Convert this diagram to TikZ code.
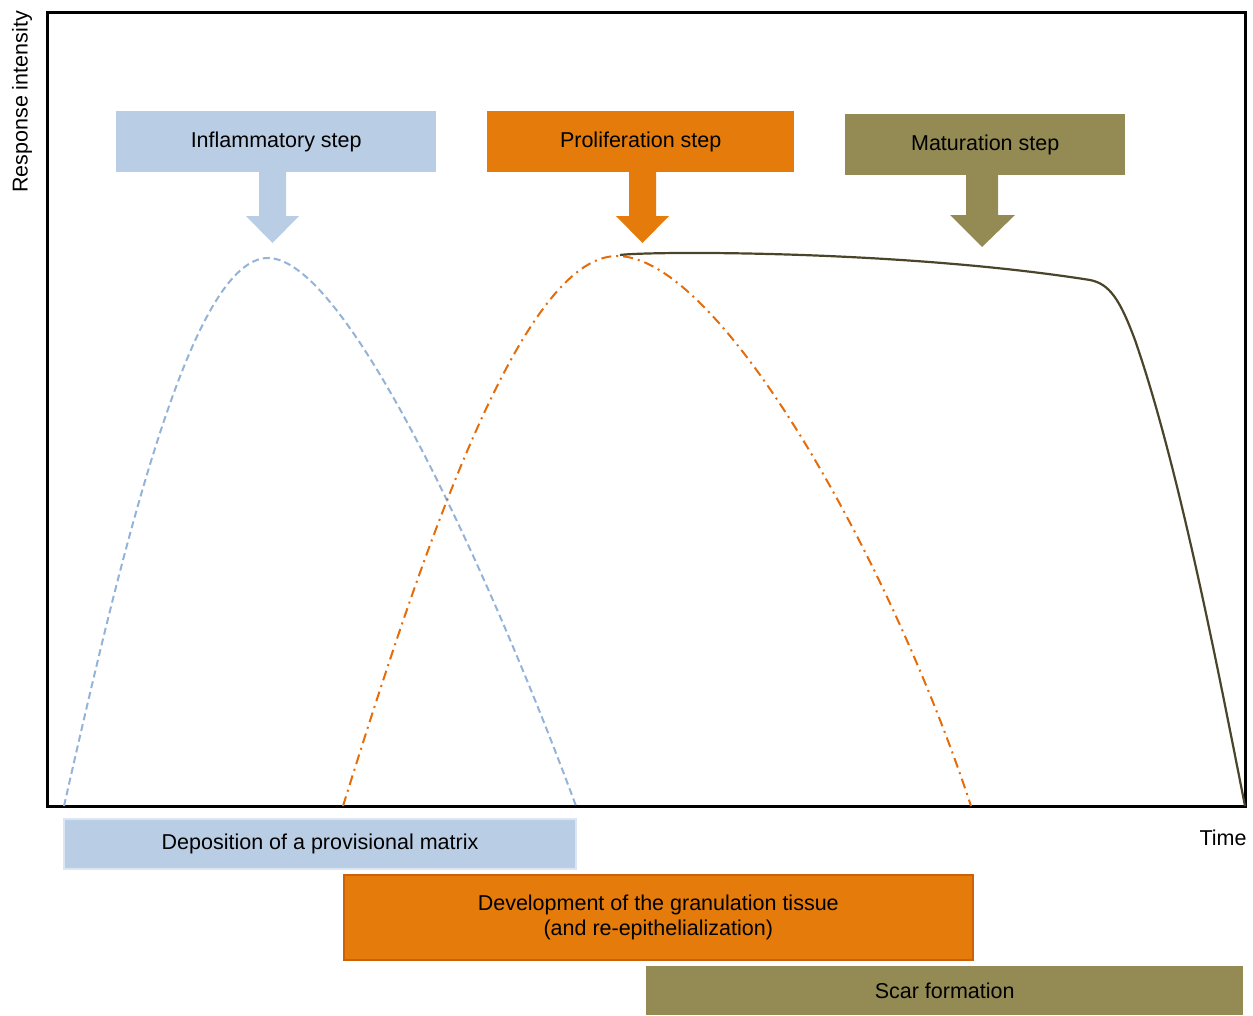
\documentclass[tikz,border=0pt]{standalone}
\usepackage{fontspec}
\setmainfont{Liberation Sans}
\usepackage{tikz}
\definecolor{inflblue}{HTML}{B9CDE5}
\definecolor{inflline}{HTML}{95B3D7}
\definecolor{prolorange}{HTML}{E47B0A}
\definecolor{prolline}{HTML}{E46C0A}
\definecolor{matolive}{HTML}{948A54}
\definecolor{matline}{HTML}{4A452A}
\tikzset{
    stepbox/.style={
           rectangle,
           anchor=north west,
           inner sep=0pt,
           text centered,
           font=\fontsize{21.5}{25}\selectfont
           },
    phasebox/.style={
           stepbox,
           align=center
           },
}
\begin{document}
\begin{tikzpicture}[x=1pt,y=-1pt]
            \useasboundingbox (0,0) rectangle (1253,1015);

%            axes
             \draw[line width=3pt] (47,12) rectangle (1245,806);
             \node[rotate=90, font=\fontsize{21.5}{25}\selectfont] (YLAB) at (22,102) {Response intensity};
             \node[font=\fontsize{21.5}{25}\selectfont] (XLAB) at (1223,838) {Time};

%            step boxes
             \node[stepbox, fill=inflblue, minimum width=320pt, minimum height=61pt]
                  (INFL) at (116,111) {Inflammatory step};
             \node[stepbox, fill=prolorange, minimum width=307pt, minimum height=61pt]
                  (PROL) at (487,111) {Proliferation step};
             \node[stepbox, fill=matolive, minimum width=280pt, minimum height=61pt]
                  (MAT) at (845,114) {Maturation step};

%            block arrows below the step boxes
             \fill[inflblue] (259,172) -- (286,172) -- (286,216) -- (299,216)
                  -- (272.5,243) -- (246,216) -- (259,216) -- cycle;
             \fill[prolorange] (629,172) -- (656,172) -- (656,216) -- (669,216)
                  -- (642.5,243) -- (616,216) -- (629,216) -- cycle;
             \fill[matolive] (966,175) -- (998,175) -- (998,215) -- (1015,215)
                  -- (982,247) -- (950,215) -- (966,215) -- cycle;

%            response curves
             \coordinate (I0) at (64,806);
             \coordinate (I1) at (268,258);
             \coordinate (I2) at (576,806);
             \draw[inflline, line width=2pt, dash pattern=on 7pt off 4pt]
                  (I0) .. controls (120,560) and (190,258) .. (I1)
                       .. controls (350,258) and (500,600) .. (I2);

             \coordinate (P0) at (343,806);
             \coordinate (P1) at (617,256);
             \coordinate (P2) at (971,806);
             \draw[prolline, line width=2pt, dash pattern=on 10pt off 5pt on 2pt off 5pt]
                  (P0) .. controls (420,560) and (520,256) .. (P1)
                       .. controls (720,256) and (890,560) .. (P2);

             \coordinate (M0) at (620,255);
             \coordinate (M1) at (1090,280);
             \coordinate (M2) at (1245,806);
             \draw[matline, line width=2.2pt]
                  (M0) .. controls (650,251) and (900,250) .. (M1)
                       .. controls (1110,284) and (1120,300) .. (1135,340)
                       .. controls (1180,470) and (1220,680) .. (M2);

%            phase boxes
             \node[phasebox, fill=inflblue, draw=inflblue!50!white, line width=2pt,
                   minimum width=512pt, minimum height=50pt]
                  (DEPO) at (63,818) {Deposition of a provisional matrix};
             \node[phasebox, fill=prolorange, draw=prolline!90!black, line width=1.5pt,
                   minimum width=629pt, minimum height=85pt]
                  (GRAN) at (343,874)
                  {Development of the granulation tissue\\(and re-epithelialization)};
             \node[phasebox, fill=matolive,
                   minimum width=597pt, minimum height=49pt]
                  (SCAR) at (646,966) {Scar formation};

        \end{tikzpicture}
\end{document}
